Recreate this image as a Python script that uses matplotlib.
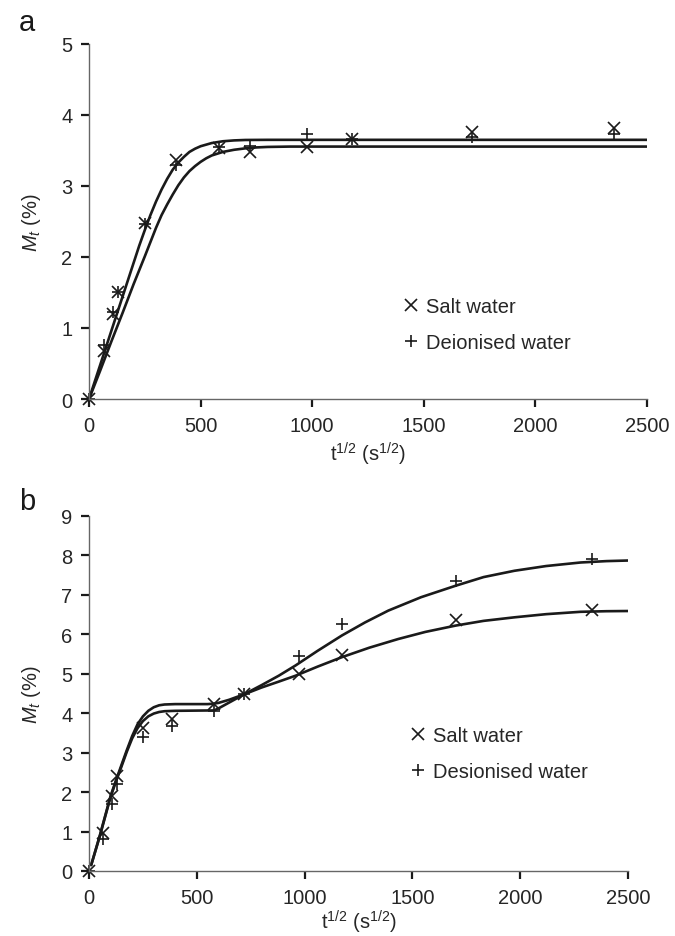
import numpy as np
import matplotlib.pyplot as plt

plt.rcParams['font.family'] = ['Liberation Sans', 'DejaVu Sans']
plt.rcParams['mathtext.fontset'] = 'custom'
plt.rcParams['mathtext.rm'] = 'Liberation Sans'
plt.rcParams['mathtext.it'] = 'Liberation Sans:italic'

# measured points, sqrt(time) in s^1/2
t_a = [0, 66, 106, 130, 251, 389, 582, 721, 976, 1178, 1716, 2352]
salt_a = [0, 0.68, 1.20, 1.50, 2.48, 3.37, 3.53, 3.48, 3.55, 3.66, 3.76, 3.82]
deion_a = [0, 0.76, 1.22, 1.50, 2.47, 3.30, 3.55, 3.56, 3.73, 3.66, 3.69, 3.73]

t_b = [0, 66, 105, 128, 251, 386, 578, 720, 973, 1173, 1700, 2334]
salt_b = [0, 0.95, 1.90, 2.41, 3.62, 3.85, 4.23, 4.48, 4.99, 5.48, 6.35, 6.62]
deion_b = [0, 0.82, 1.70, 2.20, 3.40, 3.68, 4.06, 4.48, 5.46, 6.25, 7.36, 7.91]

# fitted model curves
fit_a1_t = [0, 50, 100, 150, 200, 225, 250, 275, 300, 325, 350, 375, 400, 425, 450, 475,
            500, 550, 600, 650, 700, 800, 2500]
fit_a1_m = [0, 0.48, 0.96, 1.44, 1.92, 2.16, 2.38, 2.59, 2.78, 2.95, 3.10, 3.23, 3.33, 3.41,
            3.48, 3.525, 3.56, 3.605, 3.63, 3.642, 3.648, 3.65, 3.65]
fit_a2_t = [0, 50, 100, 150, 200, 250, 275, 300, 325, 350, 375, 400, 425, 450, 475, 500,
            525, 550, 600, 650, 700, 750, 800, 900, 2500]
fit_a2_m = [0, 0.40, 0.81, 1.21, 1.62, 2.01, 2.21, 2.41, 2.59, 2.74, 2.88, 3.01, 3.12, 3.21,
            3.28, 3.34, 3.39, 3.43, 3.48, 3.51, 3.53, 3.543, 3.55, 3.555, 3.555]

fit_b_salt_t = [10, 50, 100, 125, 150, 175, 200, 225, 250, 275, 300, 325, 350, 400, 550, 575,
                600, 650, 720, 800, 880, 958, 1060, 1173, 1300, 1434, 1560, 1700, 1830, 1973,
                2120, 2280, 2400, 2500]
fit_b_salt_m = [0.15, 0.90, 1.90, 2.30, 2.68, 3.06, 3.42, 3.72, 3.92, 4.06, 4.15, 4.20, 4.22,
                4.23, 4.23, 4.24, 4.26, 4.34, 4.48, 4.65, 4.80, 4.95, 5.18, 5.42, 5.66, 5.88,
                6.06, 6.22, 6.34, 6.43, 6.51, 6.57, 6.585, 6.59]
fit_b_deion_t = [10, 50, 100, 125, 150, 175, 200, 225, 250, 275, 300, 325, 350, 400, 580, 600,
                 720, 800, 880, 958, 1060, 1173, 1280, 1388, 1540, 1700, 1830, 1973, 2120,
                 2280, 2400, 2500]
fit_b_deion_m = [0.15, 0.88, 1.88, 2.27, 2.64, 3.02, 3.36, 3.62, 3.80, 3.92, 3.99, 4.03, 4.05,
                 4.06, 4.07, 4.12, 4.48, 4.71, 4.95, 5.21, 5.58, 5.97, 6.30, 6.60, 6.94, 7.23,
                 7.45, 7.61, 7.73, 7.82, 7.855, 7.87]

fig = plt.figure(figsize=(6.75, 9.37), dpi=100)
ax_a = fig.add_axes([0.1319, 0.5731, 0.8267, 0.3789])
ax_b = fig.add_axes([0.1319, 0.0694, 0.7985, 0.3789])

line_kw = dict(color='#1a1a1a', lw=1.9, solid_capstyle='round', solid_joinstyle='round')
mk_kw = dict(ls='none', color='#1a1a1a', ms=9, mew=1.2, clip_on=False)


def style(ax, ymax, xpad):
    ax.set_xlim(0, 2500)
    ax.set_ylim(0, ymax)
    ax.set_xticks([0, 500, 1000, 1500, 2000, 2500])
    ax.set_yticks(range(0, ymax + 1))
    for s in ['top', 'right']:
        ax.spines[s].set_visible(False)
    for s in ['left', 'bottom']:
        ax.spines[s].set_color('#666666')
        ax.spines[s].set_linewidth(1.0)
    ax.tick_params(direction='out', length=6, width=1.6, color='#1a1a1a',
                   labelsize=14.5, labelcolor='#262626', pad=6)
    ax.set_xlabel('t$^{1/2}$ (s$^{1/2}$)', fontsize=14.5, color='#262626', labelpad=xpad)
    ax.set_ylabel('$M_t$ (%)', fontsize=14.5, color='#262626', labelpad=13)


# panel a
ax_a.plot(fit_a1_t, fit_a1_m, **line_kw)
ax_a.plot(fit_a2_t, fit_a2_m, **line_kw)
ax_a.plot(t_a, salt_a, marker='x', label='Salt water', **mk_kw)
ax_a.plot(t_a, deion_a, marker='+', label='Deionised water', **mk_kw)
style(ax_a, 5, 4)
ax_a.legend(loc='center left', bbox_to_anchor=(0.548, 0.21), frameon=False,
            fontsize=14.5, handlelength=0.6, handletextpad=0.45, labelspacing=0.85,
            borderpad=0, labelcolor='#262626')
fig.text(0.028, 0.975, 'a', fontsize=21, color='#1a1a1a', va='center')

# panel b
ax_b.plot(fit_b_salt_t, fit_b_salt_m, **line_kw)
ax_b.plot(fit_b_deion_t, fit_b_deion_m, **line_kw)
ax_b.plot(t_b, salt_b, marker='x', label='Salt water', **mk_kw)
ax_b.plot(t_b, deion_b, marker='+', label='Desionised water', **mk_kw)
style(ax_b, 9, 1)
ax_b.legend(loc='center left', bbox_to_anchor=(0.58, 0.33), frameon=False,
            fontsize=14.5, handlelength=0.6, handletextpad=0.45, labelspacing=0.85,
            borderpad=0, labelcolor='#262626')
fig.text(0.028, 0.464, 'b', fontsize=21, color='#1a1a1a', va='center')

fig.savefig('out.png', dpi=100, facecolor='white')
